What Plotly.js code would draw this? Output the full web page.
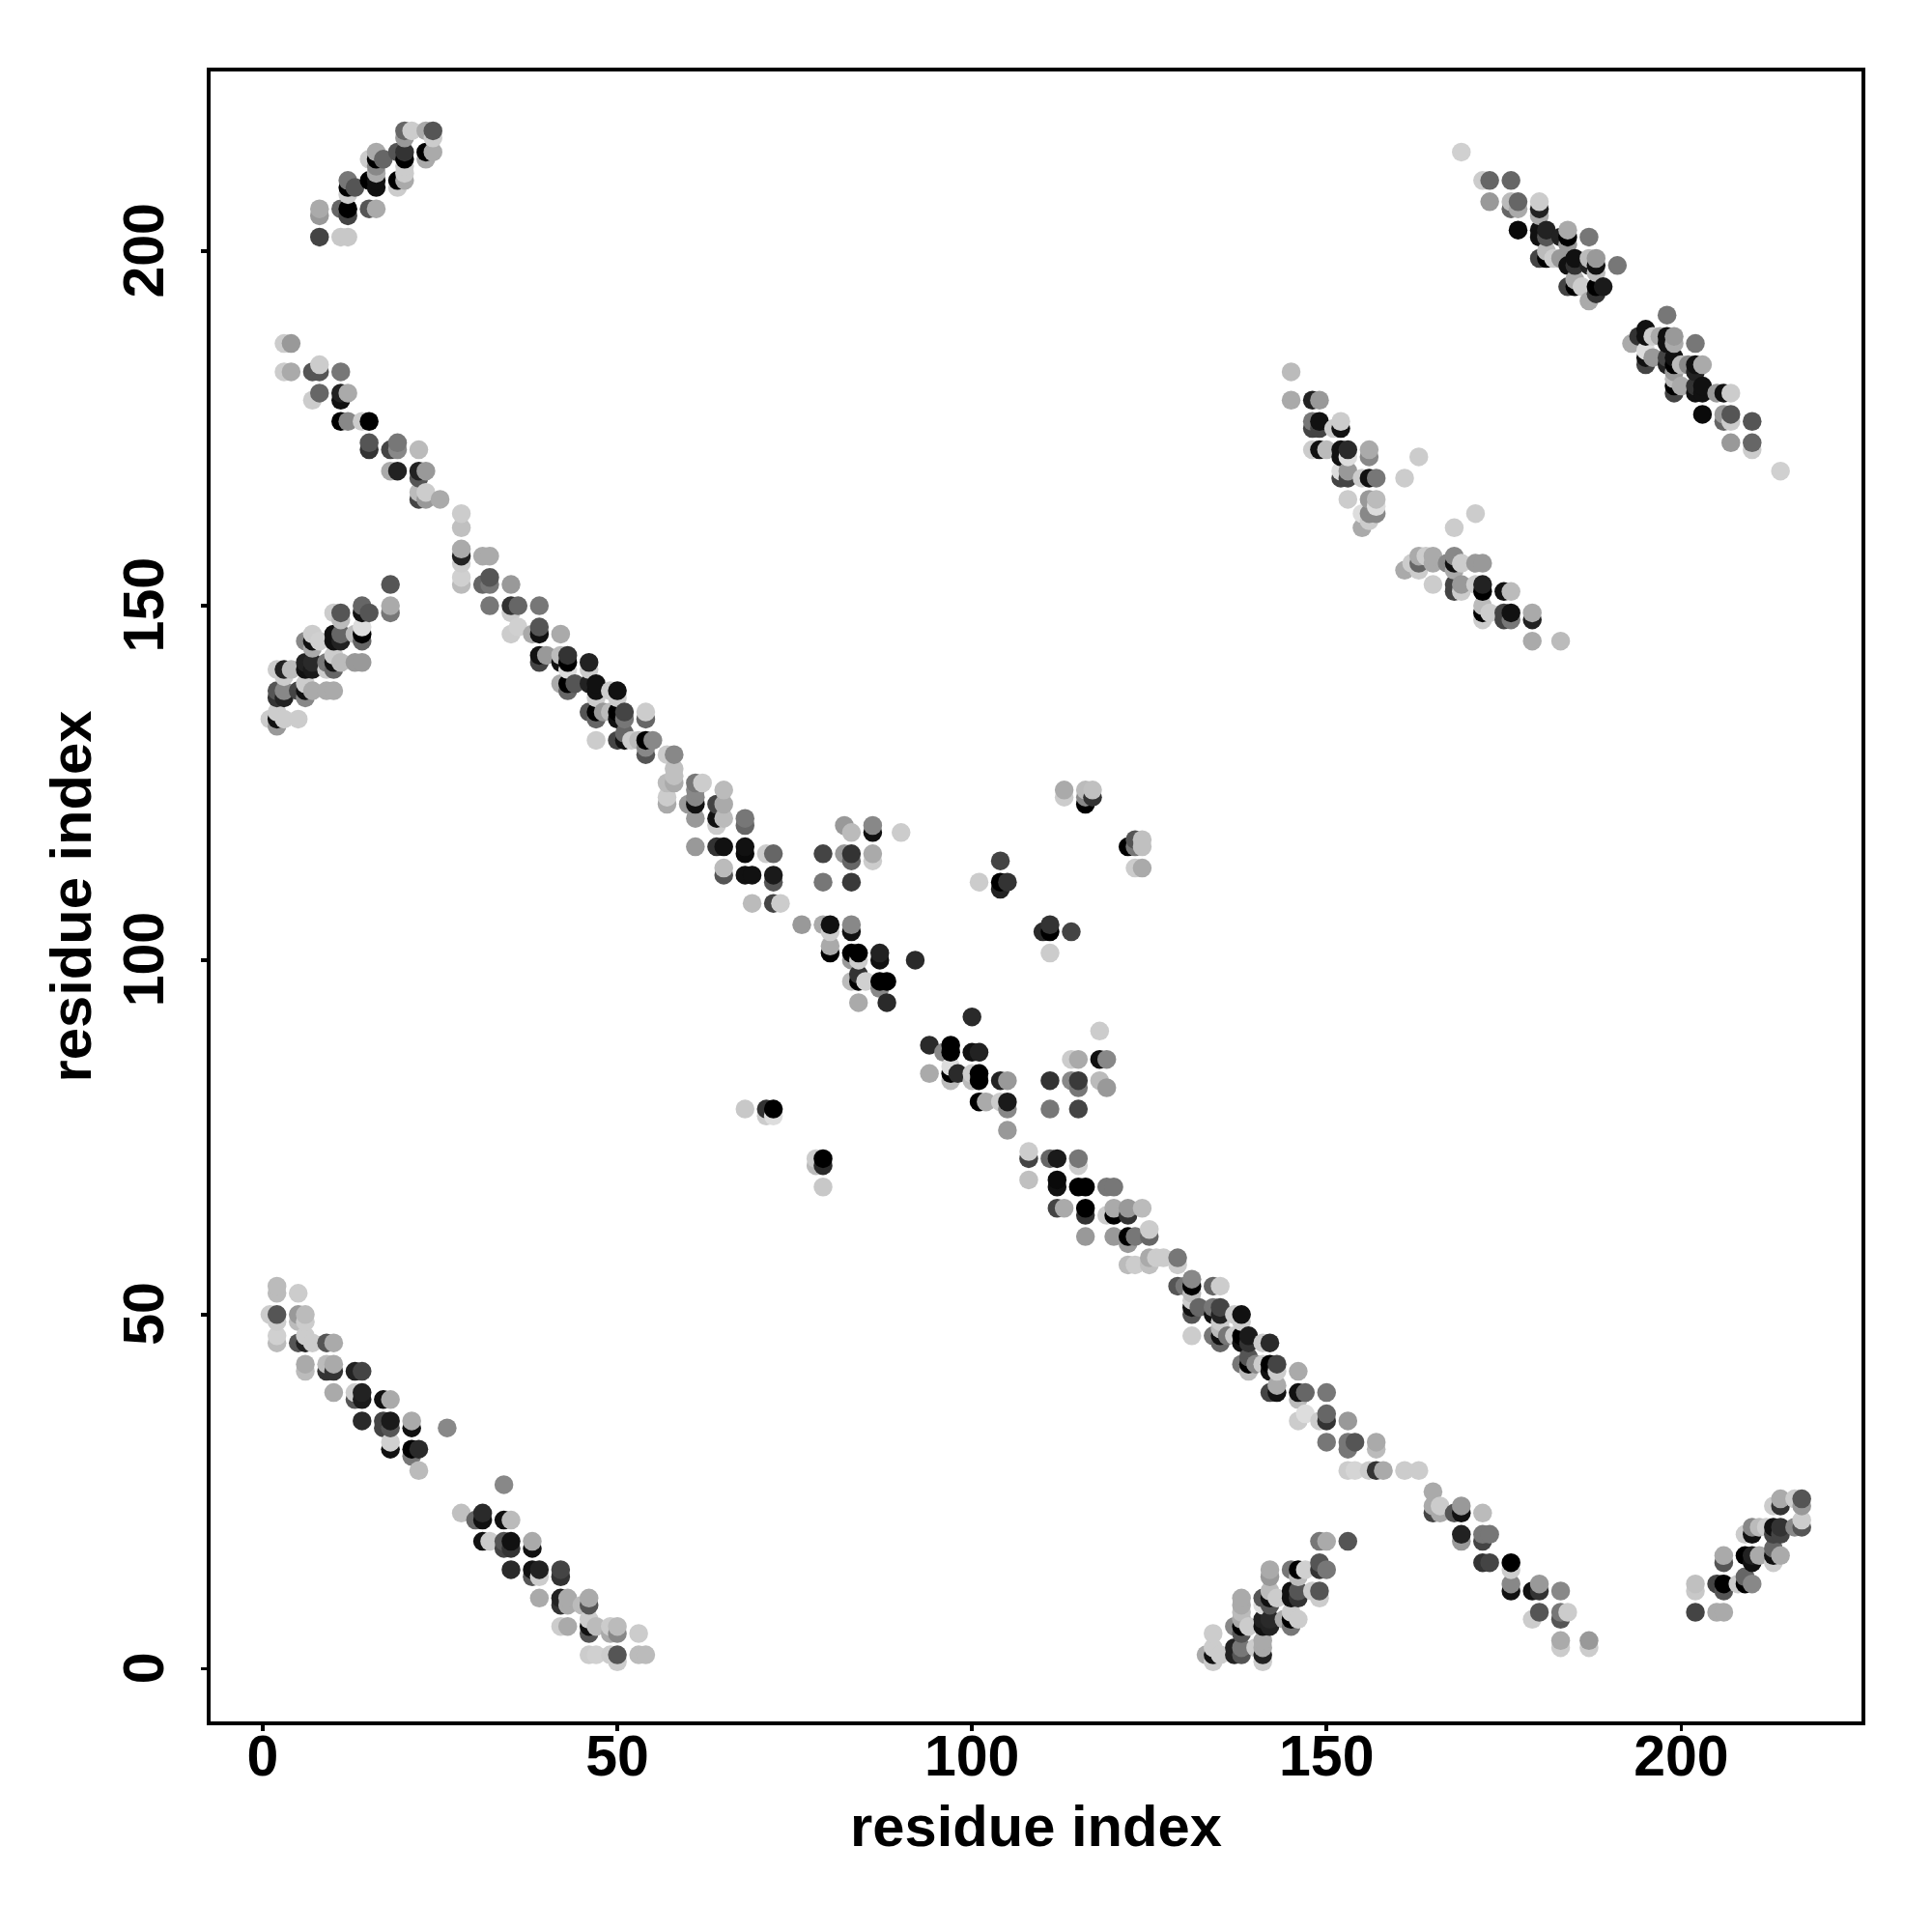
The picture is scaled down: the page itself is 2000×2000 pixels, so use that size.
<!DOCTYPE html>
<html>
<head>
<meta charset="utf-8">
<script src="https://cdn.plot.ly/plotly-3.0.1.min.js"></script>
<style>html,body{margin:0;padding:0;background:#fff}</style>
</head>
<body>
<div id="chart" style="width:2000px;height:2000px"></div>
<script>
// each contact: [residue i, residue j, grey level]
const topLeftBand = [[8,202,68],[11,202,200],[12,202,200],[8,206,170],[8,205,153],[11,206,102],[12,206,0],[12,205,68],[15,206,85],[16,206,170],
[12,210,119],[12,209,0],[12,208,204],[13,209,85],[15,210,0],[16,209,17],[16,210,17],[16,211,170],[16,213,0],[15,213,204],[16,214,170],[16,212,136],[17,213,102],
[19,209,204],[19,210,0],[20,210,170],[20,211,204],[20,212,204],[20,213,0],[20,214,51],[19,214,85],[20,216,153],[20,217,102],[21,217,204],[23,217,170],[24,217,85],[24,216,204],[23,214,0],[23,213,170],[24,214,170]];
const upperDiagonal = [[3,187,204],[4,187,153],[3,183,204],[4,183,170],[7,183,85],[8,183,85],[8,184,204],[11,183,119],[7,179,204],[8,180,102],[11,180,34],[11,179,17],[12,180,170],
[11,176,0],[12,176,136],[14,176,204],[15,176,0],[15,173,85],[15,172,51],[18,172,68],[19,173,119],[19,172,136],[22,172,187],[18,169,170],[19,169,34],[22,169,34],[22,168,85],[23,169,153],
[22,165,68],[22,166,187],[23,166,204],[23,165,153],[25,165,170]];
const midDiagonalA = [[28,163,204],[28,161,192],[28,158,170],[28,157,34],[28,156,204],[28,154,208],[28,153,187],[31,157,170],[32,157,170],[31,153,102],[32,153,119],[32,154,85],[35,153,153],
[32,150,119],[35,150,51],[36,150,102],[39,150,119],[35,149,204],[35,146,204],[36,147,208],[38,146,170],[39,147,85],[39,146,17],[42,146,170],
[39,143,17],[39,142,68],[40,143,153],[42,143,187],[42,142,17],[43,143,51],[43,142,0],[43,141,221],[46,142,34],[46,141,204],
[42,139,170],[43,139,0],[43,138,102],[44,139,85],[46,139,34],[47,139,17],[47,138,17],[47,137,204],[49,138,204],[50,138,17],[50,137,204],
[46,135,85],[47,135,0],[47,134,102],[48,135,153],[49,135,187],[50,135,0],[50,134,17],[51,135,68],[51,134,119],[54,135,204],[54,134,102],
[47,131,204],[50,131,68],[51,132,102],[51,131,17],[52,131,204],[53,131,187],[54,131,0],[55,131,136],[54,130,136],[54,129,85]];
const midDiagonalB = [[57,129,204],[58,129,136],[58,127,192],[58,126,192],[58,125,170],[57,125,187],[57,123,204],[57,122,170],[61,125,119],[61,124,136],[62,125,204],[61,123,136],[61,122,17],[60,122,153],[61,120,153],
[65,124,187],[64,122,68],[65,122,170],[64,120,17],[65,120,187],[64,119,204],[68,120,119],[68,119,102],[61,116,153],[64,116,51],[65,116,17],[68,116,17],[68,115,10],[71,115,204],[72,115,102],
[65,113,187],[65,112,85],[68,112,17],[69,112,17],[72,112,26],[72,111,85],[69,108,187],[72,108,68],[73,108,204]];
const centreDiagonal = [[76,105,153],[79,105,170],[80,105,17],[80,104,204],[80,102,170],[80,101,0],[83,105,136],[83,104,17],[83,101,0],[84,101,0],[83,100,153],[84,100,204],[87,101,34],[87,100,17],[92,100,42],
[83,97,187],[84,98,51],[84,97,0],[85,97,208],[87,97,0],[88,97,0],[87,96,136],[84,94,170],[88,94,42],[100,92,42],[94,88,42],[96,87,136],[97,88,0],[97,87,0],[100,87,17],[101,87,34],
[94,84,170],[97,85,221],[97,84,0],[97,83,187],[98,84,42],[100,84,204],[101,84,0],[101,83,0],[100,83,187],[104,83,34],[105,83,153],[101,80,0],[102,80,170],[104,80,204],[105,80,26],[105,79,136],[105,76,153]];
const islands = [[82,119,153],[83,118,187],[86,119,136],[86,118,17],[90,118,204],[79,115,68],[82,115,153],[83,115,51],[83,114,102],[86,115,170],[86,114,204],[79,111,119],[83,111,58],
[68,79,200],[71,79,51],[72,79,0],[71,78,204],[72,78,221],[78,72,204],[78,71,187],[79,72,0],[79,71,42],[79,68,200],
[111,83,51],[114,83,136],[115,83,58],[115,82,119],[111,79,119],[115,79,68],[114,86,204],[115,86,170],[118,86,17],[119,86,136],[118,90,204],[118,83,187],[119,82,153],
[101,111,204],[104,114,68],[104,111,0],[104,110,34],[105,111,51],[111,105,51],[110,104,42],[111,104,0],[114,104,68],[111,101,204],
[113,124,170],[113,123,204],[116,124,187],[117,124,192],[116,123,136],[117,123,51],[116,122,0],[122,116,0],[123,117,85],[124,117,192],[123,116,119],[124,116,192],[123,113,204],[124,113,170]];
const lowerDiagonalA = [[108,73,204],[108,72,68],[108,69,192],[111,72,102],[112,72,26],[115,72,119],[115,71,204],[112,69,10],[112,68,17],[115,68,0],[116,68,0],[119,68,119],[120,68,119],
[112,65,68],[113,65,170],[116,65,0],[116,64,51],[116,61,153],[119,64,204],[120,65,170],[120,64,0],[122,65,153],[122,64,51],[124,65,187],[120,61,153],[122,61,0],[122,60,153],[123,61,119],[125,61,102],[125,62,204],
[122,57,187],[123,57,204],[125,58,170],[125,57,192],[126,58,204],[127,58,204]];
const lowerDiagonalB = [[129,58,119],[129,57,204],[129,54,85],[130,54,119],[131,55,136],[131,54,0],[131,53,187],[134,54,102],[135,54,204],[131,52,204],[131,51,17],[131,50,85],[132,51,102],[131,47,204],
[134,51,119],[134,50,17],[135,51,68],[135,50,34],[135,49,204],[137,50,204],[138,50,17],[138,49,204],[134,47,119],[135,47,17],[135,46,102],[135,48,187],[136,47,119],[137,47,204],
[138,47,0],[138,46,17],[139,47,26],[139,46,51],[141,46,204],[142,46,42],[138,43,119],[139,44,85],[139,43,0],[139,42,187],[140,43,136],[141,43,204],[142,43,0],[142,42,17],[143,43,68],[143,42,204],[146,42,170],
[142,39,68],[143,40,170],[143,39,17],[146,39,17],[147,39,102],[150,39,119],[146,38,187],[146,35,204],[147,36,221],[149,35,204],[150,36,102],[150,35,51]];
const lowerDiagonalC = [[153,35,153],[150,32,119],[153,32,119],[153,31,119],[154,32,85],[157,32,170],[157,31,187],[153,28,204],[154,28,213],[156,28,204],[157,28,51],[158,28,170],[161,28,204],[163,28,204],
[165,25,170],[165,23,170],[165,22,68],[166,23,204],[166,22,170],[168,22,85],[169,23,153],[169,22,17],[172,22,187],[169,19,34],[169,18,153],[172,19,119],[172,18,68],[173,19,119],
[172,15,51],[173,15,68],[176,15,0],[176,14,204],[176,12,136],[176,11,17],[179,11,17],[180,11,51],[180,12,153],[183,11,136],[179,7,204],[180,8,85],[183,8,119],[183,7,85],[184,8,204],[183,4,170],[183,3,204],[187,4,153],[187,3,204]];
const upperRightA = [[169,214,208],[172,210,204],[173,210,102],[176,210,102],[173,207,153],[176,207,187],[176,206,102],[177,207,102],[177,206,170],[180,207,204],[180,206,34],[180,205,170],
[177,203,10],[180,203,17],[180,202,17],[181,203,34],[181,202,85],[184,203,170],[184,202,0],[183,202,34],[184,201,153],[187,202,119],[180,199,68],[181,200,187],[181,199,0],[182,199,204],[183,199,153],
[184,198,17],[185,199,17],[185,198,51],[187,199,187],[187,198,34],[188,199,153],[188,198,17],[188,197,187],[191,198,119],[184,195,68],[185,195,0],[185,196,170],[186,195,204],[188,195,0],[188,194,51],[189,195,26],[187,193,170]];
const upperRightB = [[198,191,119],[193,187,170],[194,188,51],[195,189,17],[195,188,17],[196,188,204],[197,188,170],[198,188,17],[198,187,17],[199,188,153],[199,187,170],[202,187,119],
[195,186,221],[195,185,17],[195,184,68],[196,185,153],[198,185,68],[198,184,34],[199,185,17],[199,184,0],[200,184,187],[201,184,136],[202,184,17],[203,184,170],[202,183,34],
[199,183,153],[199,182,187],[199,181,0],[199,180,68],[200,181,170],[202,181,51],[202,180,17],[203,181,17],[203,180,17],[205,180,153],[206,180,17],[207,180,204],
[203,177,10],[206,177,153],[206,176,102],[207,177,85],[207,176,204],[210,176,85],[207,173,153],[210,173,102],[210,172,204],[214,169,208]];
const upperMiddleA = [[145,183,187],[145,179,170],[148,179,34],[149,179,153],[148,176,119],[148,175,68],[149,176,17],[149,175,68],[151,175,204],[152,176,204],[152,175,17],
[148,172,204],[149,172,17],[150,172,187],[152,172,17],[152,171,17],[153,172,42],[153,171,221],[156,172,170],[156,171,136],[152,169,221],[152,168,68],[153,169,153],[153,168,68],[155,168,204],[156,168,17],[157,168,119],
[153,165,204],[156,165,153],[157,165,187],[157,164,221],[157,163,136],[156,163,136],[155,163,221],[156,162,204],[155,161,170],[161,168,204],[163,171,204]];
const upperMiddleB = [[171,163,204],[168,161,204],[161,155,170],[162,156,204],[163,157,170],[163,155,204],[163,156,102],[164,157,204],[165,157,170],[165,156,170],[165,153,204],
[167,156,136],[168,157,136],[168,156,17],[168,155,170],[169,156,204],[171,156,153],[172,156,153],[168,153,68],[168,152,68],[169,153,153],[169,152,204],[171,153,204],[172,153,34],[172,152,0],[175,152,17],[176,152,187],
[172,150,187],[172,149,0],[172,148,204],[173,149,204],[175,149,68],[175,148,68],[176,149,17],[176,148,119],[179,149,170],[179,148,34],[179,145,170],[183,145,187]];
const lowerRight = [[202,12,192],[202,11,200],[202,8,68],[205,8,170],[206,8,170],[205,12,68],[206,12,0],[206,11,85],[206,16,170],[206,15,85],[208,12,204],[209,12,0],[210,12,136],[209,13,102],
[209,16,0],[210,15,17],[210,16,34],[211,16,170],[209,19,204],[210,20,136],[210,19,17],[211,20,187],[212,20,204],[213,20,17],[213,19,68],[214,20,51],[214,19,68],[213,17,102],[213,16,17],[213,15,204],[214,16,170],
[213,23,204],[214,23,51],[214,24,170],[216,24,204],[217,24,85],[217,23,153],[216,20,136],[217,20,85],[217,21,204]];
const lowerLeftA = [[1,50,204],[2,50,85],[2,54,187],[2,53,187],[2,49,204],[2,47,208],[2,46,187],[5,53,204],[5,50,153],[6,50,187],[5,49,187],[6,49,204],[5,46,85],[6,46,34],[6,47,204],[7,46,204],[9,46,85],[10,46,170],
[6,43,170],[6,42,187],[9,43,187],[9,42,51],[10,43,170],[10,42,51],[13,42,34],[14,42,68],[10,39,170],[13,39,204],[13,38,85],[14,39,34],[14,38,26],[14,35,42],[17,38,17],[18,38,170],
[17,35,68],[17,34,68],[18,35,26],[18,34,85],[18,32,208],[18,31,17],[21,35,170],[21,34,17],[21,31,0],[22,31,42],[21,30,119],[22,28,187],[26,34,136]];
const lowerLeftB = [[28,22,192],[30,21,102],[31,22,42],[31,21,17],[31,18,17],[32,18,204],[34,26,136],[34,21,17],[35,21,187],[34,18,85],[34,17,68],[35,18,17],[35,17,51],[35,14,42],[38,18,170],[38,17,17],
[38,14,17],[38,13,85],[39,14,34],[39,13,204],[39,10,170],[42,14,68],[42,13,51],[42,10,34],[42,9,51],[43,10,170],[43,9,170],[46,10,170],[46,9,85],[45,9,187],
[42,6,204],[43,6,170],[46,7,204],[46,6,17],[46,5,85],[47,6,187],[49,6,204],[49,5,170],[50,6,187],[50,5,136],[53,5,204],[46,2,204],[47,2,208],[49,2,204],[50,2,85],[50,1,204],[53,2,187],[54,2,187]];
const midLeft = [[18,153,85],[18,150,170],[18,149,119],[14,150,102],[14,149,17],[15,149,85],[10,149,204],[11,149,85],[11,148,187],[14,147,221],[14,146,0],[14,145,102],[13,146,187],
[10,146,17],[10,145,17],[11,146,102],[11,145,34],[7,146,204],[6,145,136],[7,145,17],[8,145,208],[7,144,170],[14,142,153],[13,142,153],[10,143,204],[10,142,17],[11,142,187],[9,142,119],[10,141,102],[9,141,204],
[6,142,34],[7,142,42],[6,141,17],[7,141,26],[4,141,187],[3,141,34],[2,141,204],[3,140,204],[2,138,85],[3,138,136],[2,137,51],[3,137,34],[5,138,68],[6,139,204],[6,138,17],[6,137,136],[7,138,170],[9,138,170],[10,138,170],
[1,134,204],[2,135,204],[2,134,17],[2,133,153],[3,134,204],[5,134,204]];
const lowerMiddle = [[149,18,119],[150,18,170],[153,18,85],[149,15,85],[149,14,51],[150,14,119],[145,14,119],[146,14,0],[147,14,208],[146,13,187],[142,14,170],[142,13,153],
[148,11,204],[149,11,85],[149,10,204],[145,11,17],[146,11,85],[145,10,17],[146,10,51],[141,10,85],[142,11,187],[142,10,17],[143,10,204],[141,9,221],[142,9,85],[138,10,170],[138,9,170],[138,8,187],
[141,7,34],[142,7,42],[141,6,17],[142,6,34],[144,7,170],[145,7,0],[145,6,119],[145,8,204],[146,7,204],[137,6,136],[138,7,170],[138,6,0],[138,5,85],[139,6,204],
[134,5,204],[133,2,170],[134,3,204],[134,2,17],[135,2,204],[134,1,204],[137,3,34],[137,2,34],[138,3,119],[138,2,85],[140,3,204],[141,4,170],[141,3,170],[141,2,34],[141,1,204]];

const tickValues = [0, 50, 100, 150, 200];
const axisTitle = 'residue index';

const contacts = [].concat(topLeftBand, upperDiagonal, midDiagonalA, midDiagonalB, centreDiagonal, islands,
  lowerDiagonalA, lowerDiagonalB, lowerDiagonalC, upperRightA, upperRightB, upperMiddleA, upperMiddleB,
  lowerRight, lowerLeftA, lowerLeftB, midLeft, lowerMiddle);
contacts.sort((a, b) => a[0] - b[0] || a[1] - b[1]);

const axisBase = {
  tickmode: 'array', tickvals: tickValues, ticktext: tickValues.map(String),
  showgrid: false, zeroline: false, showline: true, mirror: true, linecolor: '#000', linewidth: 3.6,
  ticks: 'outside', ticklen: 6.5, tickwidth: 3.6, tickcolor: '#000',
  tickfont: {family: '"Liberation Sans", Arial, sans-serif', size: 59, color: '#000', weight: 700},
  automargin: false
};
const titleFont = {family: '"Liberation Sans", Arial, sans-serif', size: 59.7, color: '#000', weight: 700};

Plotly.newPlot('chart', [{
  type: 'scatter', mode: 'markers',
  x: contacts.map(c => c[0]), y: contacts.map(c => c[1]),
  marker: {size: 19.5, color: contacts.map(c => c[2]), cmin: 0, cmax: 255,
    colorscale: [[0, 'rgb(0,0,0)'], [1, 'rgb(255,255,255)']], showscale: false, line: {width: 0}},
  hoverinfo: 'x+y'
}], {
  width: 2000, height: 2000, showlegend: false,
  paper_bgcolor: '#fff', plot_bgcolor: '#fff',
  margin: {l: 218, r: 73.4, t: 73.5, b: 218, pad: 0},
  xaxis: Object.assign({}, axisBase, {range: [-7.357, 225.42], ticklabelstandoff: -25,
    title: {text: axisTitle, font: titleFont, standoff: 20.5}}),
  yaxis: Object.assign({}, axisBase, {range: [-7.40, 225.37], tickangle: -90, ticklabelstandoff: 15, ticklabelshift: 8,
    title: {text: axisTitle, font: titleFont, standoff: 3}})
}, {displayModeBar: false, staticPlot: true});
</script>
</body>
</html>
